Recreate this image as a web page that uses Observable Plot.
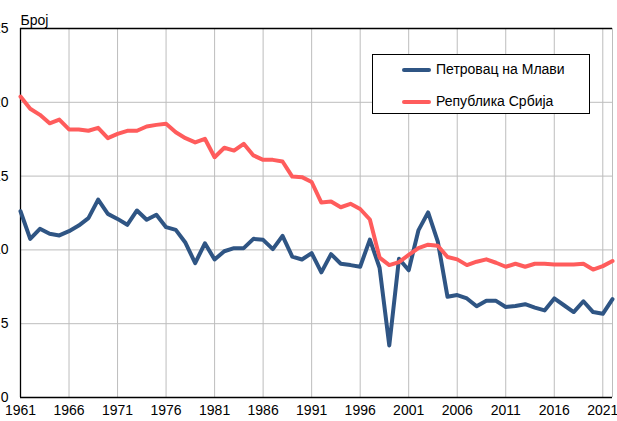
<!DOCTYPE html>
<html>
<head>
<meta charset="utf-8">
<script src="https://cdn.jsdelivr.net/npm/d3@7"></script>
<script src="https://cdn.jsdelivr.net/npm/@observablehq/plot@0.6"></script>
<style>
  body { margin: 0; background: #fff; }
  #wrap { position: relative; width: 617px; height: 421px; overflow: hidden; font-family: "Liberation Sans", Arial, sans-serif; }
  #legend { position: absolute; left: 372px; top: 54px; width: 216px; height: 58px; border: 1px solid #000; background: #fff; }
  .item { position: absolute; left: 0; height: 20px; width: 216px; }
  .sw { position: absolute; left: 29px; top: 8px; width: 29px; height: 4px; border-radius: 2px; }
  .lb { position: absolute; left: 63px; top: 1px; font-size: 14px; color: #000; white-space: nowrap; }
</style>
</head>
<body>
<div id="wrap"></div>
<script>
const years = d3.range(1961, 2023);
const seriesNames = ["Петровац на Млави", "Република Србија"];
const seriesColors = ["#2f5584", "#ff5c5c"];
const petrovac = [
  12.62, 10.75, 11.43, 11.09, 10.98, 11.27, 11.65, 12.15, 13.41, 12.44,
  12.10, 11.70, 12.67, 12.04, 12.38, 11.54, 11.36, 10.48, 9.10, 10.45,
  9.35, 9.91, 10.12, 10.12, 10.75, 10.68, 10.05, 10.95, 9.55, 9.35,
  9.78, 8.48, 9.71, 9.06, 8.97, 8.86, 10.70, 8.79, 3.53, 9.40,
  8.62, 11.32, 12.54, 10.56, 6.82, 6.94, 6.71, 6.18, 6.55, 6.55,
  6.13, 6.20, 6.32, 6.09, 5.90, 6.71, 6.25, 5.79, 6.52, 5.79,
  5.67, 6.67
];
const srbija = [
  20.39, 19.56, 19.15, 18.58, 18.83, 18.16, 18.16, 18.07, 18.27, 17.57,
  17.86, 18.07, 18.07, 18.36, 18.47, 18.54, 17.97, 17.57, 17.28, 17.53,
  16.28, 16.92, 16.73, 17.19, 16.40, 16.10, 16.10, 15.99, 14.97, 14.93,
  14.60, 13.21, 13.28, 12.89, 13.12, 12.77, 12.06, 9.48, 8.97, 9.17,
  9.66, 10.12, 10.35, 10.28, 9.52, 9.36, 8.97, 9.20, 9.36, 9.13,
  8.86, 9.06, 8.86, 9.06, 9.06, 9.01, 9.01, 9.01, 9.06, 8.67,
  8.90, 9.25
];
const xTicks = d3.range(1961, 2022, 5);
const xGrid = [...d3.range(1966, 2022, 5), 2022];
const yTicks = [0, 5, 10, 15, 20, 25];
const yLabel = ["Број"];

const data = [
  ...years.map((year, i) => ({year, value: petrovac[i], series: seriesNames[0]})),
  ...years.map((year, i) => ({year, value: srbija[i], series: seriesNames[1]}))
];

const chart = Plot.plot({
  width: 617,
  height: 421,
  marginLeft: 20,
  marginRight: 5,
  marginTop: 28,
  marginBottom: 24,
  style: {fontFamily: "'Liberation Sans', Arial, sans-serif", fontSize: "14px", color: "#000", background: "transparent", overflow: "visible"},
  x: {domain: [1961, 2022], ticks: xTicks, tickFormat: d => String(d), tickSize: 0, tickPadding: 8, label: null},
  y: {domain: [0, 25], ticks: yTicks, tickSize: 0, tickPadding: 12, label: null},
  color: {domain: seriesNames, range: seriesColors},
  marks: [
    Plot.gridX(xGrid, {stroke: "#bdbdbd", strokeOpacity: 1}),
    Plot.gridY(yTicks.slice(1, 5), {stroke: "#bdbdbd", strokeOpacity: 1}),
    Plot.ruleY([0, 25], {stroke: "#000", strokeWidth: 1.3}),
    Plot.ruleX([1961], {stroke: "#000", strokeWidth: 1.3}),
    Plot.line(data, {x: "year", y: "value", stroke: "series", z: "series", strokeWidth: 4, strokeLinejoin: "round"}),
    Plot.text(yLabel, {text: d => d, frameAnchor: "top-left", textAnchor: "start", dy: -13, fontSize: 14})
  ]
});
const wrap = document.getElementById("wrap");
wrap.appendChild(chart);

const legend = document.createElement("div");
legend.id = "legend";
seriesNames.forEach((name, i) => {
  const item = document.createElement("div");
  item.className = "item";
  item.style.top = (i === 0 ? 5 : 37) + "px";
  const sw = document.createElement("div");
  sw.className = "sw";
  sw.style.background = seriesColors[i];
  const lb = document.createElement("div");
  lb.className = "lb";
  lb.textContent = name;
  item.appendChild(sw);
  item.appendChild(lb);
  legend.appendChild(item);
});
wrap.appendChild(legend);
</script>
</body>
</html>
